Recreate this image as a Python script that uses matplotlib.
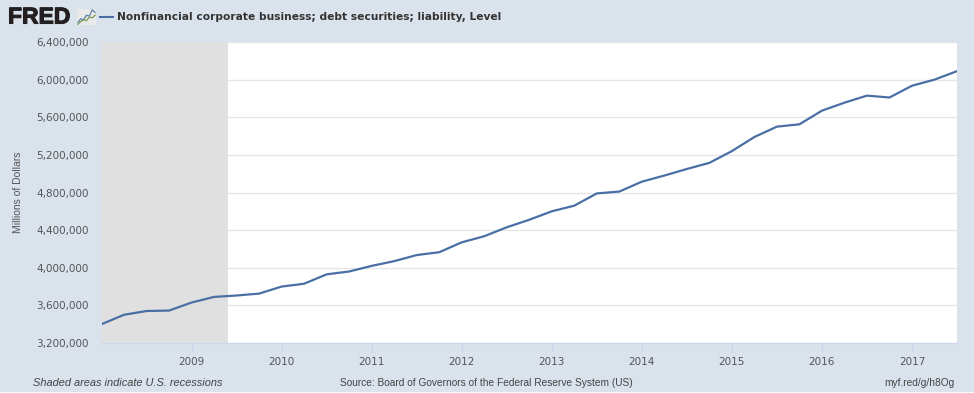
import matplotlib
matplotlib.use('Agg')
import matplotlib.pyplot as plt
import matplotlib.patheffects as pe

# quarterly, millions of dollars
start_year = 2008
values = [3400000, 3500000, 3540000, 3545000, 3630000, 3690000, 3705000, 3725000,
          3800000, 3830000, 3930000, 3960000, 4020000, 4070000, 4135000, 4165000,
          4270000, 4335000, 4430000, 4510000, 4600000, 4660000, 4790000, 4810000,
          4915000, 4980000, 5050000, 5115000, 5240000, 5390000, 5500000, 5525000,
          5670000, 5755000, 5830000, 5810000, 5935000, 6000000, 6090000]
years = [start_year + i / 4 for i in range(len(values))]
year_ticks = [2009, 2010, 2011, 2012, 2013, 2014, 2015, 2016, 2017]
y_ticks = [3200000, 3600000, 4000000, 4400000, 4800000, 5200000, 5600000, 6000000, 6400000]
recession = [2008, 2009.41]
icon_blue = [0.15, 0.35, 0.3, 0.55, 0.5, 0.85, 0.7]
icon_green = [0.05, 0.2, 0.3, 0.25, 0.45, 0.4, 0.55]

BG = '#dae2ec'
TXT = '#555555'
W, H = 974, 393

fig = plt.figure(figsize=(W / 100, H / 100), dpi=100, facecolor='white')
# page background stops just short of the bottom edge
fig.patches.append(plt.Rectangle((0, 2 / H), 1, 1 - 2 / H, transform=fig.transFigure,
                                 color=BG, zorder=-5))

left, right, top, bottom = 101.5, 957, 42, 343
ax = fig.add_axes([left / W, 1 - bottom / H, (right - left) / W, (bottom - top) / H])
ax.set_facecolor('white')
ax.set_xlim(2008, 2017.5)
ax.set_ylim(3200000, 6400000)

ax.grid(axis='y', color='#e6e6e6', lw=1)
ax.set_axisbelow(True)
ax.axvspan(recession[0], recession[1], color='#e0e0e0', lw=0, zorder=1.5)
ax.plot(years, values, color='#4a6fa5', lw=1.6, zorder=3, solid_joinstyle='round')

for s in ['top', 'left', 'right']:
    ax.spines[s].set_visible(False)
ax.spines['bottom'].set_color('#ccd6eb')

ax.set_xticks(year_ticks)
ax.set_xticklabels([str(y) for y in year_ticks], family='DejaVu Sans', fontsize=7.5, color=TXT)
ax.tick_params(axis='x', length=6, width=1, color='#ccd6eb', pad=4)
ax.set_yticks(y_ticks)
ax.set_yticklabels([f'{v:,}' for v in y_ticks], family='DejaVu Sans', fontsize=7.5, color=TXT)
ax.tick_params(axis='y', length=0, pad=9)

def px(x, y):
    return x / W, 1 - y / H

fig.text(*px(18, 192), 'Millions of Dollars', rotation=90, family='Liberation Sans',
         fontsize=7.5, color=TXT, ha='center', va='center')

# header
logo = fig.text(*px(8, 17), 'FRED', family='Liberation Sans', weight='bold', fontsize=16.5,
                color='#231f20', ha='left', va='center')
logo.set_path_effects([pe.withStroke(linewidth=0.8, foreground='#231f20')])
icon = fig.add_axes([77 / W, 1 - 25 / H, 19 / W, 16 / H])
icon.set_facecolor('#e8eaea')
icon.plot(icon_blue, color='#5f7fa8', lw=0.9)
icon.plot(icon_green, color='#7f9a55', lw=0.9)
icon.set_xticks([])
icon.set_yticks([])
for s in icon.spines.values():
    s.set_visible(False)

fig.add_artist(plt.Line2D([99.5 / W, 113 / W], [1 - 17 / H, 1 - 17 / H], color='#4a6fa5', lw=1.5))
fig.text(*px(117, 17), 'Nonfinancial corporate business; debt securities; liability, Level',
         family='DejaVu Sans', weight='bold', fontsize=7.65, color='#333333', ha='left', va='center')

# footer
fig.text(*px(33, 383), 'Shaded areas indicate U.S. recessions', family='Liberation Sans',
         style='italic', fontsize=7.9, color='#444444', ha='left', va='center')
fig.text(*px(340, 383), 'Source: Board of Governors of the Federal Reserve System (US)',
         family='Liberation Sans', fontsize=7.25, color='#444444', ha='left', va='center')
fig.text(*px(955, 383), 'myf.red/g/h8Og', family='Liberation Sans', fontsize=7.3,
         color='#444444', ha='right', va='center')

fig.savefig('out.png', dpi=100, facecolor=fig.get_facecolor())
